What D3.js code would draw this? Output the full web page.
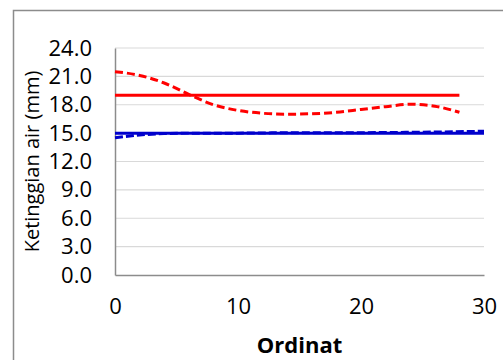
<!DOCTYPE html>
<html>
<head>
<meta charset="utf-8">
<script src="https://cdn.jsdelivr.net/npm/d3@7"></script>
<style>
  body { margin: 0; background: #fff; }
  text { font-family: "Open Sans", Lato, sans-serif; fill: #000; }
</style>
</head>
<body>
<div id="chart"></div>
<script>
// series data
var redSolidX = [0, 28];
var redSolidY = [19.0, 19.0];

var redDashX = [0, 2, 4, 6, 8, 10, 12, 14, 16, 18, 20, 22, 24, 26, 28];
var redDashY = [21.5, 21.1, 20.3, 19.1, 18.0, 17.4, 17.1, 17.0, 17.05, 17.2, 17.5, 17.8, 18.05, 17.85, 17.2];

var blueSolidX = [0, 30];
var blueSolidY = [15.0, 15.0];

var blueDashX = [0, 2, 4, 6, 10, 15, 20, 25, 30];
var blueDashY = [14.5, 14.8, 14.95, 15.0, 15.0, 15.05, 15.05, 15.1, 15.2];

var yTicks = [0, 3, 6, 9, 12, 15, 18, 21, 24];
var xTicks = [0, 10, 20, 30];

var W = 503, H = 360;
var margin = {top: 48, right: 19, bottom: 85, left: 115},
    width = W - margin.left - margin.right,
    height = H - margin.top - margin.bottom;

var svg = d3.select("#chart").append("svg")
    .attr("width", W)
    .attr("height", H);

// outer chart border (runs off the right and bottom edges)
svg.append("rect")
    .attr("x", 13.5).attr("y", 10.5)
    .attr("width", 520).attr("height", 380)
    .attr("fill", "none")
    .attr("stroke", "#8c8c8c")
    .attr("stroke-width", 1.5);

var g = svg.append("g")
    .attr("transform", "translate(" + margin.left + "," + margin.top + ")");

var x = d3.scaleLinear().domain([0, 30]).range([0, width]);
var y = d3.scaleLinear().domain([0, 24]).range([height, 0]);

// gridlines
g.append("g")
    .selectAll("line")
    .data(yTicks.filter(function(d) { return d > 0; }))
    .enter().append("line")
    .attr("x1", 0).attr("x2", width)
    .attr("y1", function(d) { return y(d); })
    .attr("y2", function(d) { return y(d); })
    .attr("stroke", "#d9d9d9")
    .attr("stroke-width", 1.2);

// axes
var yAxis = g.append("g")
    .call(d3.axisLeft(y).tickValues(yTicks).tickFormat(d3.format(".1f")).tickSize(0).tickPadding(23));
yAxis.select(".domain").attr("stroke", "#8c8c8c").attr("stroke-width", 1.5);
yAxis.selectAll("text").style("font-size", "22px");

var xAxis = g.append("g")
    .attr("transform", "translate(0," + height + ")")
    .call(d3.axisBottom(x).tickValues(xTicks).tickSize(0).tickPadding(23));
xAxis.select(".domain").attr("stroke", "#8c8c8c").attr("stroke-width", 1.5);
xAxis.selectAll("text").style("font-size", "22px");

// axis titles
svg.append("text")
    .attr("transform", "translate(39," + (margin.top + height / 2) + ") rotate(-90)")
    .attr("text-anchor", "middle")
    .style("font-size", "20px")
    .text("Ketinggian air (mm)");

svg.append("text")
    .attr("x", margin.left + width / 2)
    .attr("y", 353)
    .attr("text-anchor", "middle")
    .style("font-size", "22px")
    .style("font-weight", "bold")
    .text("Ordinat");

function series(xs, ys) {
  return xs.map(function(d, i) { return [d, ys[i]]; });
}

var line = d3.line()
    .x(function(d) { return x(d[0]); })
    .y(function(d) { return y(d[1]); })
    .curve(d3.curveMonotoneX);

var lines = [
  {data: series(blueDashX, blueDashY), color: "#0000cc", dash: "8,3"},
  {data: series(blueSolidX, blueSolidY), color: "#0000cc", dash: null},
  {data: series(redSolidX, redSolidY), color: "#ff0000", dash: null},
  {data: series(redDashX, redDashY), color: "#ff0000", dash: "8,4"}
];

g.selectAll(".series")
    .data(lines)
    .enter().append("path")
    .attr("class", "series")
    .attr("d", function(d) { return line(d.data); })
    .attr("fill", "none")
    .attr("stroke", function(d) { return d.color; })
    .attr("stroke-width", 3)
    .attr("stroke-dasharray", function(d) { return d.dash; });
</script>
</body>
</html>
